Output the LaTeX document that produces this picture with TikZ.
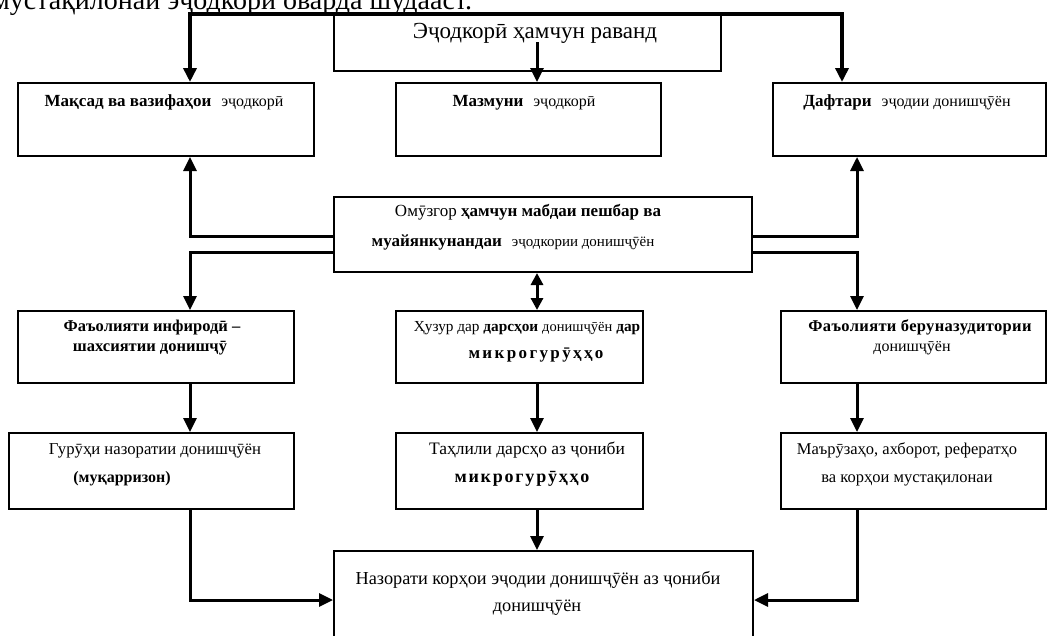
\documentclass[tikz,border=0pt]{standalone}
\usepackage{fontspec}
\setmainfont{Liberation Serif}
\usetikzlibrary{arrows.meta}
\newcommand{\fs}[1]{\fontsize{#1}{#1}\selectfont}
\newcommand{\lsp}[1]{\addfontfeature{LetterSpace=#1}}
\newcommand{\gap}{\hspace{10pt}}
\tikzset{
  boxnode/.style={draw, line width=2pt, inner sep=0pt, anchor=north west},
  txt/.style={inner sep=0pt, anchor=base},
  conn/.style={line width=3pt},
  arr/.style={conn, -{Triangle[length=14pt,width=13pt]}},
  darr/.style={conn, {Triangle[length=12pt,width=12pt]}-{Triangle[length=12pt,width=12pt]}}
}
\begin{document}
\begin{tikzpicture}[x=1pt,y=-1pt]
\useasboundingbox (0,0) rectangle (1064,635);
\clip (0,0) rectangle (1064,635);
\fill[white] (0,0) rectangle (1064,635);

% partial caption line at the top
\node[anchor=base west, inner sep=0pt, font=\fs{28}] (capt) at (-8,9) {мустақилонаи эҷодкорӣ оварда шудааст.};

% column coordinates
\coordinate (colL) at (190,0);
\coordinate (mid) at (537,0);
\coordinate (colR) at (857,0);
\coordinate (colTR) at (842,0);
\coordinate (cUp) at (0,236);
\coordinate (cDn) at (0,252);
\coordinate (bY) at (0,600);
\coordinate (mstart) at (537,42);

% boxes
\node[boxnode, minimum width=387pt, minimum height=56pt] (top) at (333,14) {};
\node[boxnode, minimum width=296pt, minimum height=73pt] (r1l) at (17,82) {};
\node[boxnode, minimum width=265pt, minimum height=73pt] (r1m) at (395,82) {};
\node[boxnode, minimum width=273pt, minimum height=73pt] (r1r) at (772,82) {};
\node[boxnode, minimum width=418pt, minimum height=75pt] (cen) at (333,196) {};
\node[boxnode, minimum width=276pt, minimum height=72pt] (r2l) at (17,310) {};
\node[boxnode, minimum width=247pt, minimum height=72pt] (r2m) at (395,310) {};
\node[boxnode, minimum width=265pt, minimum height=72pt] (r2r) at (780,310) {};
\node[boxnode, minimum width=285pt, minimum height=76pt] (r3l) at (8,432) {};
\node[boxnode, minimum width=247pt, minimum height=76pt] (r3m) at (395,432) {};
\node[boxnode, minimum width=265pt, minimum height=76pt] (r3r) at (780,432) {};
\node[boxnode, minimum width=419pt, minimum height=110pt] (bot) at (333,550) {};

% texts
\node[txt, font=\fs{23}] (ttop) at (535,38) {Эҷодкорӣ ҳамчун раванд};
\node[txt] (t1l) at (164,106) {{\fs{17}\bfseries Мақсад ва вазифаҳои}\gap{\fs{16}эҷодкорӣ}};
\node[txt] (t1m) at (524,106) {{\fs{17}\bfseries Мазмуни}\gap{\fs{16}эҷодкорӣ}};
\node[txt] (t1r) at (907,106) {{\fs{17}\bfseries Дафтари}\gap{\fs{16}эҷодии донишҷӯён}};
\node[txt] (tc1) at (528,216) {{\fs{17}Омӯзгор \bfseries ҳамчун мабдаи пешбар ва}};
\node[txt] (tc2) at (513,246) {{\fs{17}\bfseries муайянкунандаи}\gap{\fs{15}эҷодкории донишҷӯён}};
\node[txt, font=\fs{16.5}\bfseries] (t2l1) at (152,331) {Фаъолияти инфиродӣ –};
\node[txt, font=\fs{16.5}\bfseries] (t2l2) at (150,351) {шахсиятии донишҷӯ};
\node[txt] (t2m1) at (527,331) {{\fs{15.3}Ҳузур дар \bfseries дарсҳои}\hspace{4pt}{\fs{14.5}донишҷӯён}\hspace{4pt}{\fs{15.3}\bfseries дар}};
\node[txt, font=\fs{17}\bfseries\lsp{14}] (t2m2) at (536,358) {микрогурӯҳҳо};
\node[txt, font=\fs{16.5}\bfseries\lsp{2}] (t2r1) at (920,331) {Фаъолияти беруназудитории};
\node[txt, font=\fs{16}] (t2r2) at (912,351) {донишҷӯён};
\node[txt, font=\fs{16.7}] (t3l1) at (155,454) {Гурӯҳи назоратии донишҷӯён};
\node[txt, font=\fs{16}\bfseries] (t3l2) at (122,482) {(муқарризон)};
\node[txt, font=\fs{17.5}] (t3m1) at (527,454) {Таҳлили дарсҳо аз ҷониби};
\node[txt, font=\fs{18}\bfseries\lsp{10}] (t3m2) at (522,482) {микрогурӯҳҳо};
\node[txt, font=\fs{16.5}] (t3r1) at (907,454) {Маърӯзаҳо, ахборот, рефератҳо};
\node[txt, font=\fs{16.5}] (t3r2) at (907,482) {ва корҳои мустақилонаи};
\node[txt, font=\fs{18.3}] (tb1) at (538,584) {Назорати корҳои эҷодии донишҷӯён аз ҷониби};
\node[txt, font=\fs{18.3}] (tb2) at (537,611) {донишҷӯён};

% connectors
\draw[arr, line width=4pt] (top.north) -| (colL |- r1l.north);
\draw[arr, line width=4pt] (top.north) -| (colTR |- r1r.north);
\draw[arr] (mstart) -- (mstart |- r1m.north);
\draw[arr] (cen.west |- cUp) -| (colL |- r1l.south);
\draw[arr] (cen.east |- cUp) -| (colR |- r1r.south);
\draw[arr] (cen.west |- cDn) -| (colL |- r2l.north);
\draw[arr] (cen.east |- cDn) -| (colR |- r2r.north);
\draw[darr] (mid |- cen.south) -- (mid |- r2m.north);
\draw[arr] (colL |- r2l.south) -- (colL |- r3l.north);
\draw[arr] (mid |- r2m.south) -- (mid |- r3m.north);
\draw[arr] (colR |- r2r.south) -- (colR |- r3r.north);
\draw[arr] (mid |- r3m.south) -- (mid |- bot.north);
\draw[arr] (colL |- r3l.south) |- (bot.west |- bY);
\draw[arr] (colR |- r3r.south) |- (bot.east |- bY);
\end{tikzpicture}
\end{document}
